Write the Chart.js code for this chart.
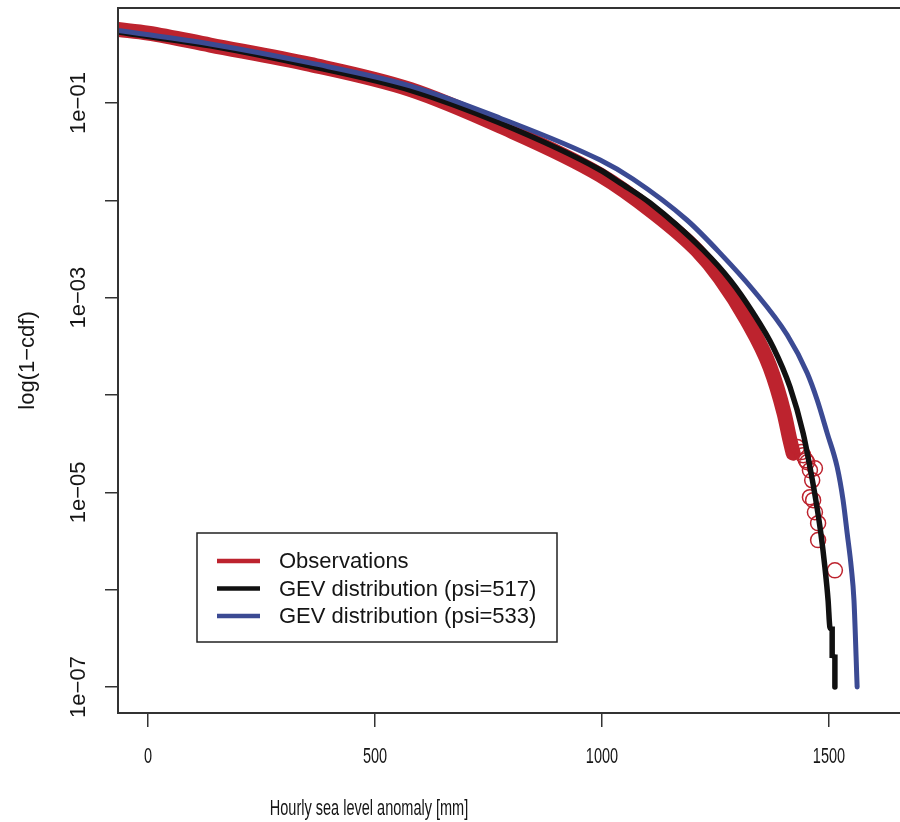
<!DOCTYPE html>
<html>
<head>
<meta charset="utf-8">
<script src="https://cdn.jsdelivr.net/npm/chart.js@4.4.1/dist/chart.umd.min.js"></script>
<style>
  html, body { margin: 0; padding: 0; background: #fff; overflow: hidden; }
  canvas { display: block; }
</style>
</head>
<body>
<canvas id="cdfChart" width="900" height="822"></canvas>
<script>
// empirical 1-cdf, dense part (overlapping circles -> drawn as thick band)
const obsX = [-66, 0, 137, 357, 577, 775, 996, 1112, 1209, 1260, 1319, 1370, 1401, 1414, 1421];
const obsY = [0.569, 0.523, 0.394, 0.249, 0.138, 0.0581, 0.0182, 0.00758, 0.00308, 0.00159, 0.000589, 0.000194, 0.0000652, 0.0000344, 0.0000253];
// sparse tail of observations (single circles)
const obsTailX = [1430, 1439, 1449, 1443, 1452, 1458, 1469, 1463, 1458, 1465, 1469, 1476, 1476, 1513];
const obsTailY = [2.92e-5, 2.59e-5, 2.14e-5, 2.41e-5, 2.04e-5, 1.69e-5, 1.77e-5, 1.33e-5, 8.93e-6, 8.32e-6, 6.25e-6, 4.82e-6, 3.23e-6, 1.58e-6];
// GEV fits
const gev517X = [-66, 137, 357, 577, 775, 996, 1040, 1106, 1223, 1282, 1333, 1377, 1414, 1443, 1458, 1471, 1482, 1491, 1498, 1502, 1507, 1507, 1513, 1513];
const gev517Y = [0.537, 0.386, 0.240, 0.136, 0.0623, 0.0205, 0.0151, 0.00938, 0.00308, 0.00152, 0.000695, 0.000310, 0.000121, 0.0000406, 0.0000182, 0.00000832, 0.00000381, 0.0000017, 7.8e-7, 4.12e-7, 3.93e-7, 2.12e-7, 2.02e-7, 1e-7];
const gev533X = [-66, 137, 357, 577, 775, 996, 1068, 1187, 1260, 1333, 1408, 1452, 1474, 1496, 1518, 1531, 1540, 1549, 1555, 1562];
const gev533Y = [0.556, 0.404, 0.258, 0.150, 0.0701, 0.0259, 0.01656, 0.00628, 0.00287, 0.00120, 0.000413, 0.000168, 0.0000887, 0.0000406, 0.0000182, 0.00000832, 0.00000381, 0.0000017, 7.8e-7, 1e-7];

const xTicks = [0, 500, 1000, 1500];
const yTicks = [1e-7, 1e-6, 1e-5, 1e-4, 1e-3, 1e-2, 1e-1];
const yTickLabels = ["1e\u221207", "", "1e\u221205", "", "1e\u221203", "", "1e\u221201"];

const RED = "#bd232e", BLACK = "#111111", BLUE = "#3b4a93", AXIS = "#333333";
const FONT = "'Liberation Sans', Arial, Helvetica, sans-serif";

function pts(xs, ys) { return xs.map((x, i) => ({ x: x, y: ys[i] })); }

function noPad(s) {
    s.paddingLeft = 0; s.paddingRight = 0; s.paddingTop = 0; s.paddingBottom = 0;
}

const rStyle = {
    id: "rStyle",
    afterDatasetsDraw(chart) {
        const ctx = chart.ctx, a = chart.chartArea;
        ctx.save();
        ctx.strokeStyle = AXIS;
        ctx.lineWidth = 2;
        ctx.beginPath();
        ctx.moveTo(a.right + 5, a.top);
        ctx.lineTo(a.left, a.top);
        ctx.lineTo(a.left, a.bottom);
        ctx.lineTo(a.right + 5, a.bottom);
        ctx.stroke();
        ctx.restore();
    },
    afterDraw(chart) {
        const ctx = chart.ctx;
        const xs = chart.scales.x, ys = chart.scales.y;
        ctx.save();
        ctx.fillStyle = "#151515";
        ctx.font = "22px " + FONT;
        ctx.textAlign = "center";
        ctx.textBaseline = "middle";
        // x tick labels (condensed like the original)
        xTicks.forEach(v => {
            ctx.save();
            ctx.translate(xs.getPixelForValue(v), 757);
            ctx.scale(0.66, 1);
            ctx.fillText(String(v), 0, 0);
            ctx.restore();
        });
        // x title
        ctx.save();
        ctx.translate(369, 809);
        ctx.scale(0.66, 1);
        ctx.fillText("Hourly sea level anomaly [mm]", 0, 0);
        ctx.restore();
        // y tick labels, rotated
        yTicks.forEach((v, i) => {
            if (!yTickLabels[i]) return;
            ctx.save();
            ctx.translate(79, ys.getPixelForValue(v));
            ctx.rotate(-Math.PI / 2);
            ctx.fillText(yTickLabels[i], 0, 0);
            ctx.restore();
        });
        // y title
        ctx.save();
        ctx.translate(28, (chart.chartArea.top + chart.chartArea.bottom) / 2);
        ctx.rotate(-Math.PI / 2);
        ctx.fillText("log(1\u2212cdf)", 0, 0);
        ctx.restore();

        // legend
        ctx.fillStyle = "#fff";
        ctx.fillRect(197, 533, 360, 109);
        ctx.strokeStyle = "#222";
        ctx.lineWidth = 1.5;
        ctx.strokeRect(197, 533, 360, 109);
        const items = chart.data.datasets.filter(d => d.inLegend);
        items.forEach((d, i) => {
            const y = 561 + i * 27.5;
            ctx.strokeStyle = d.borderColor;
            ctx.lineWidth = 4.5;
            ctx.lineCap = "butt";
            ctx.beginPath();
            ctx.moveTo(217, y);
            ctx.lineTo(260, y);
            ctx.stroke();
            ctx.fillStyle = "#151515";
            ctx.textAlign = "left";
            ctx.fillText(d.label, 279, y + 1);
        });
        ctx.restore();
    }
};

const ctx = document.getElementById("cdfChart").getContext("2d");
const chart = new Chart(ctx, {
    type: "line",
    data: {
        datasets: [
            {
                label: "Observations",
                inLegend: true,
                order: 4,
                data: pts(obsX, obsY),
                borderColor: RED,
                borderWidth: 15,
                borderCapStyle: "round",
                pointRadius: 0,
                cubicInterpolationMode: "monotone",
                clip: 0
            },
            {
                label: "obs tail",
                type: "scatter",
                order: 3,
                data: pts(obsTailX, obsTailY),
                showLine: false,
                pointRadius: 7.5,
                pointBorderWidth: 1.5,
                borderColor: RED,
                backgroundColor: "rgba(0,0,0,0)",
                clip: 0
            },
            {
                label: "GEV distribution (psi=517)",
                inLegend: true,
                order: 2,
                data: pts(gev517X, gev517Y),
                borderColor: BLACK,
                borderWidth: 5.5,
                borderCapStyle: "round",
                pointRadius: 0,
                cubicInterpolationMode: "monotone",
                clip: 0
            },
            {
                label: "GEV distribution (psi=533)",
                inLegend: true,
                order: 1,
                data: pts(gev533X, gev533Y),
                borderColor: BLUE,
                borderWidth: 5,
                borderCapStyle: "round",
                pointRadius: 0,
                cubicInterpolationMode: "monotone",
                clip: 0
            }
        ]
    },
    options: {
        responsive: false,
        animation: false,
        layout: { autoPadding: false, padding: { top: 8, right: 0, left: 0, bottom: 0 } },
        plugins: {
            legend: { display: false },
            tooltip: { enabled: false }
        },
        scales: {
            x: {
                type: "linear",
                min: -66.1,
                max: 1656.4,
                afterBuildTicks: s => { s.ticks = xTicks.map(v => ({ value: v })); },
                afterFit: s => { s.height = 109; noPad(s); },
                grid: { drawOnChartArea: false, drawTicks: true, tickLength: 14, tickColor: AXIS, tickWidth: 1.5, lineWidth: 1.5 },
                border: { display: false },
                ticks: { color: "rgba(0,0,0,0)", font: { size: 10 } }
            },
            y: {
                type: "logarithmic",
                min: 5.41e-8,
                max: 0.946,
                afterBuildTicks: s => { s.ticks = yTicks.map(v => ({ value: v })); },
                afterFit: s => { s.width = 118; noPad(s); },
                grid: { drawOnChartArea: false, drawTicks: true, tickLength: 13, tickColor: AXIS, tickWidth: 1.5, lineWidth: 1.5 },
                border: { display: false },
                ticks: { color: "rgba(0,0,0,0)", font: { size: 10 } }
            }
        }
    },
    plugins: [rStyle]
});
</script>
</body>
</html>
